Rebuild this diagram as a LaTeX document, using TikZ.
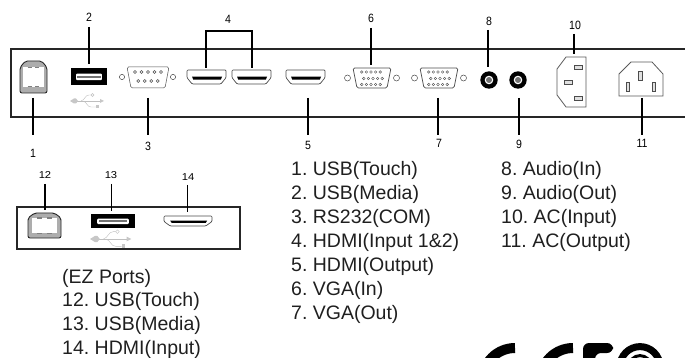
\documentclass[tikz,border=0pt]{standalone}
\usepackage{fontspec}
\setmainfont{Liberation Sans}
\tikzset{
  x=1pt,y=-1pt,
  num/.style={font=\fontsize{12}{12}\selectfont,inner sep=1pt,xscale=0.88,transform shape},
  numez/.style={font=\fontsize{10}{10}\selectfont,inner sep=1pt,xscale=1.12,transform shape},
  item/.style={font=\fontsize{19.5}{19.5}\selectfont,inner sep=0pt,anchor=west,text=black!88},
  conn/.style={line width=1.3pt,black},
  panel/.style={line width=1.2pt,black!85},
  usbsym/.style={line width=0.4pt,black!25},
}
\newcommand{\usbB}[4]{% x0 y0 x1 y1
  \draw[line width=0.9pt,black!85,fill=black!32,rounded corners=2pt]
    ({#1+0.2*(#3-#1)},#2)--({#3-0.2*(#3-#1)},#2)--(#3,{#2+0.2*(#4-#2)})--(#3,#4)--(#1,#4)--(#1,{#2+0.2*(#4-#2)})--cycle;
  \fill[white]
    ({#1+0.12*(#3-#1)},{#2+0.19*(#4-#2)}) rectangle ({#3-0.12*(#3-#1)},{#4-0.19*(#4-#2)});
  \draw[line width=1pt,black!50] ({#1+0.28*(#3-#1)},{#2+0.2*(#4-#2)})--({#1+0.43*(#3-#1)},{#2+0.2*(#4-#2)})
    ({#1+0.57*(#3-#1)},{#2+0.2*(#4-#2)})--({#1+0.72*(#3-#1)},{#2+0.2*(#4-#2)})
    ({#1+0.28*(#3-#1)},{#4-0.2*(#4-#2)})--({#1+0.43*(#3-#1)},{#4-0.2*(#4-#2)})
    ({#1+0.57*(#3-#1)},{#4-0.2*(#4-#2)})--({#1+0.72*(#3-#1)},{#4-0.2*(#4-#2)});
}
\newcommand{\usbA}[4]{%
  \fill[black] (#1,#2) rectangle (#3,#4);
  \fill[white,rounded corners=1pt]
    ({#1+0.14*(#3-#1)},{#2+0.33*(#4-#2)}) rectangle ({#3-0.14*(#3-#1)},{#2+0.72*(#4-#2)});
  \fill[black!55] ({#1+0.18*(#3-#1)},{#2+0.46*(#4-#2)}) rectangle ({#3-0.18*(#3-#1)},{#2+0.56*(#4-#2)});
}
\newcommand{\usbSym}[3]{% x y(mid) scale
  \begin{scope}[shift={(#1,#2)},xscale=#3,yscale=#3]
    \draw[usbsym] (3,0)--(30,0);
    \fill[black!22] (0,0)--(4,-2.5)--(6,-2.5)--(8,0)--(6,2.5)--(4,2.5)--cycle;
    \draw[usbsym] (11,0)..controls (15,-1) and (15,-6)..(19,-6)--(21,-6);
    \draw[usbsym] (22.5,-6) circle (1.5);
    \draw[usbsym] (13,0)..controls (17,1) and (17,6)..(21,6)--(26,6);
    \fill[black!22] (26,4.5) rectangle (29,7.5);
    \fill[black!22] (30,-2)--(34,0)--(30,2)--cycle;
  \end{scope}
}
\newcommand{\hdmi}[4]{%
  \draw[line width=0.7pt,black!70,fill=white,rounded corners=1pt]
    (#1,#2)--(#3,#2)--(#3,{#2+0.55*(#4-#2)})--({#3-0.13*(#3-#1)},#4)--({#1+0.13*(#3-#1)},#4)--(#1,{#2+0.55*(#4-#2)})--cycle;
  \fill[black] ({#1+0.13*(#3-#1)},{#2+0.47*(#4-#2)}) --({#3-0.1*(#3-#1)},{#2+0.47*(#4-#2)})
    --({#3-0.13*(#3-#1)},{#2+0.68*(#4-#2)})--({#1+0.16*(#3-#1)},{#2+0.68*(#4-#2)})--cycle;
}
\newcommand{\dbnine}[2]{% centre
  \begin{scope}[shift={(#1,#2)}]
    \draw[line width=0.5pt,black!70,rounded corners=1.5pt] (-21,-10)--(21,-10)--(17,11)--(-17,11)--cycle;
    \foreach \i in {-2,...,2} \draw[line width=0.4pt,black!70] (\i*6.5,-5) circle (1.5);
    \foreach \i in {-1.5,-0.5,0.5,1.5} \draw[line width=0.4pt,black!70] (\i*6.5,4) circle (1.5);
    \draw[line width=0.5pt,black!70] (-26,0) circle (2.6) (25,0) circle (2.6);
  \end{scope}
}
\newcommand{\dbfifteen}[2]{%
  \begin{scope}[shift={(#1,#2)}]
    \draw[line width=0.7pt,black!70,rounded corners=1.5pt] (-19,-10)--(19,-10)--(15,10)--(-15,10)--cycle;
    \foreach \i in {-2,...,2} {
      \draw[line width=0.4pt,black!70] (\i*4.6-1,-6) circle (1.3);
      \draw[line width=0.4pt,black!70] (\i*4.6+1,0.5) circle (1.3);
      \draw[line width=0.4pt,black!70] (\i*4.6-1,6.5) circle (1.3);}
    \draw[line width=0.5pt,black!70] (-24.5,0) circle (3) (24.5,0) circle (3);
  \end{scope}
}
\newcommand{\jack}[2]{%
  \fill[black] (#1,#2) circle (8.7);
  \fill[white] (#1,#2) circle (4.3);
  \fill[black!55] (#1,#2) circle (3);
}
\begin{document}
\frenchspacing
\begin{tikzpicture}
\useasboundingbox (0,0) rectangle (685,358);
% panels
\draw[panel] (685,49)--(11,49)--(11,117)--(685,117);
\draw[panel] (17,207) rectangle (240,249);
% ports
\usbB{20}{61}{47}{93}
\usbA{71}{68}{107}{85}
\usbSym{70}{101}{1}
\dbnine{148}{77}
\hdmi{187}{70}{226}{84}
\hdmi{232}{70}{271}{84}
\hdmi{286}{70}{325}{84}
\dbfifteen{372}{78}
\dbfifteen{439}{78}
\jack{489}{80}
\jack{518}{80}
% C13
\draw[line width=0.8pt,black!65] (586,57)--(566,57)--(557,69)--(557,95)--(566,107)--(586,107)--cycle;
\draw[line width=0.7pt,black!70,fill=black!12] (574,65) rectangle (582,69.5);
\draw[line width=0.7pt,black!70,fill=black!12] (564,80) rectangle (572,84.5);
\draw[line width=0.7pt,black!70,fill=black!12] (574,96) rectangle (582,100.5);
% C14
\draw[line width=0.8pt,black!65] (631,62)--(652,62)--(663,74)--(663,96)--(619,96)--(619,74)--cycle;
\draw[line width=0.7pt,black!70,fill=black!12] (638.5,71) rectangle (642.5,80);
\draw[line width=0.7pt,black!70,fill=black!12] (626,82) rectangle (629.5,91);
\draw[line width=0.7pt,black!70,fill=black!12] (652,82) rectangle (655.5,91);
% EZ ports
\usbB{28}{213}{61}{238}
\usbA{91}{214}{135}{228}
\usbSym{90}{239}{1.22}
\hdmi{164}{216}{212}{226}
% numbers
\node[num] (n1) at (33,153) {1};
\node[num] (n2) at (89,17) {2};
\node[num] (n3) at (148,146) {3};
\node[num] (n4) at (228,19) {4};
\node[num] (n5) at (308,145) {5};
\node[num] (n6) at (371,18) {6};
\node[num] (n7) at (439,143) {7};
\node[num] (n8) at (489,21) {8};
\node[num] (n9) at (519,144) {9};
\node[num] (n10) at (575,25) {10};
\node[num] (n11) at (642,143) {11};
\node[numez] (n12) at (45,175) {12};
\node[numez] (n13) at (111,175) {13};
\node[numez] (n14) at (188,177) {14};
% connector ends
\coordinate (a1a) at (33,98); \coordinate (a1b) at (33,135);
\coordinate (a2) at (89,64); \coordinate (a2t) at (89,27);
\coordinate (a3a) at (148,98); \coordinate (a3b) at (148,135);
\coordinate (a4l) at (206,68); \coordinate (a4r) at (252,68);
\coordinate (a4tl) at (206,31); \coordinate (a4tr) at (252,31);
\coordinate (a5a) at (308,98); \coordinate (a5b) at (308,135);
\coordinate (a6a) at (371,28); \coordinate (a6b) at (371,65);
\coordinate (a7a) at (438,98); \coordinate (a7b) at (438,135);
\coordinate (a8a) at (488,30); \coordinate (a8b) at (488,67);
\coordinate (a9a) at (519,98); \coordinate (a9b) at (519,135);
\coordinate (a10a) at (574,34); \coordinate (a10b) at (574,54);
\coordinate (a11a) at (642,98); \coordinate (a11b) at (642,135);
\coordinate (a12a) at (45,184); \coordinate (a12b) at (45,210);
\coordinate (a13a) at (111.5,184); \coordinate (a13b) at (111.5,211);
\coordinate (a14a) at (187.5,185); \coordinate (a14b) at (187.5,212);
\draw[conn] (a1a)--(a1b);
\draw[conn] (a2t)--(a2);
\draw[conn] (a3a)--(a3b);
\draw[conn] (a4l)--(a4tl)--(a4tr)--(a4r);
\draw[conn] (a5a)--(a5b);
\draw[conn] (a6a)--(a6b);
\draw[conn] (a7a)--(a7b);
\draw[conn] (a8a)--(a8b);
\draw[conn] (a9a)--(a9b);
\draw[conn] (a10a)--(a10b);
\draw[conn] (a11a)--(a11b);
\draw[conn] (a12a)--(a12b);
\draw[conn] (a13a)--(a13b);
\draw[conn] (a14a)--(a14b);
% lists
\node[item] (t1) at (291,170) {1. USB(Touch)};
\node[item] (t2) at (291,194) {2. USB(Media)};
\node[item] (t3) at (291,218) {3. RS232(COM)};
\node[item] (t4) at (291,242) {4. HDMI(Input 1\&2)};
\node[item] (t5) at (291,266) {5. HDMI(Output)};
\node[item] (t6) at (291,290) {6. VGA(In)};
\node[item] (t7) at (291,314) {7. VGA(Out)};
\node[item] (t8) at (501,170) {8. Audio(In)};
\node[item] (t9) at (501,194) {9. Audio(Out)};
\node[item] (t10) at (501,218) {10. AC(Input)};
\node[item] (t11) at (501,242) {11. AC(Output)};
\node[item] (t0) at (62,278) {(EZ Ports)};
\node[item] (t12) at (62,301) {12. USB(Touch)};
\node[item] (t13) at (62,325) {13. USB(Media)};
\node[item] (t14) at (62,349) {14. HDMI(Input)};
% logo, cut by the lower edge
\begin{scope}
  \clip (0,0) rectangle (685,358);
  \draw[line width=10pt] (515,348) arc (270:180:32.5);
  \draw[line width=10pt] (573,348) arc (270:180:32.5);
  \fill[rounded corners=6pt] (613,343)--(583,343)--(583,370)--(595,370)--(595,353)--(613,353)--cycle;
  \draw[line width=7pt] (640,366.6) circle (20);
  \draw[line width=3pt] (640,366.6) circle (11);
\end{scope}
\end{tikzpicture}
\end{document}
